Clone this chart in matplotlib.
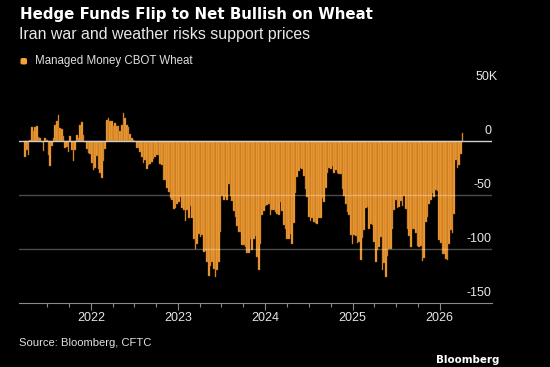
import datetime as dt

import matplotlib
matplotlib.use("Agg")
import matplotlib.dates as mdates
import matplotlib.pyplot as plt
import pandas as pd
from matplotlib.patches import FancyBboxPatch

# weekly CFTC reports (Tuesdays), managed money net position in CBOT wheat, thousands of contracts
first_week = "2021-03-30"
net_position = [
    -15, -8, -13, 1, 13, 10, 13, 14, 4, 3,
    -1, -9, 3, 1, -13, -23, -4, 3, 15, 19,
    24, 12, 11, 5, -6, -5, -10, 5, -8, -18,
    -8, 6, 3, 15, 18, 6, -1, -7, -11, -12,
    -20, -27, -25, -14, -26, -29, -34, -18, -7, 20,
    22, 19, 19, 14, 17, 14, 14, 10, 15, 26,
    22, 15, 13, 7, 3, 1, -1, -6, -6, -10,
    -15, -20, -17, -26, -22, -21, -19, -16, -15, -13,
    -13, -21, -22, -36, -36, -43, -47, -53, -54, -63,
    -62, -58, -56, -52, -62, -64, -74, -64, -71, -60,
    -71, -91, -100, -95, -86, -89, -87, -103, -102, -112,
    -125, -116, -112, -118, -126, -119, -112, -84, -51, -54,
    -52, -54, -40, -51, -55, -65, -70, -79, -84, -84,
    -96, -96, -98, -104, -104, -91, -101, -91, -88, -107,
    -119, -95, -68, -65, -60, -59, -58, -68, -64, -64,
    -66, -67, -68, -56, -65, -78, -81, -91, -91, -86,
    -95, -76, -48, -33, -28, -25, -26, -32, -44, -52,
    -70, -74, -71, -75, -76, -77, -71, -71, -53, -56,
    -43, -29, -25, -26, -23, -29, -27, -29, -30, -30,
    -44, -51, -58, -66, -68, -87, -95, -87, -88, -94,
    -93, -110, -90, -82, -62, -61, -81, -77, -78, -93,
    -112, -101, -98, -89, -119, -113, -126, -106, -100, -100,
    -81, -64, -54, -62, -61, -55, -60, -51, -63, -81,
    -88, -98, -81, -81, -85, -97, -98, -97, -111, -108,
    -75, -70, -58, -54, -48, -52, -45, -46, -92, -94,
    -105, -105, -109, -110, -95, -82, -85, -67, -17, -25,
    -22, -12, 8,
]
y_ticks = [50, 0, -50, -100, -150]
y_tick_labels = ["50K", "0", "-50", "-100", "-150"]
year_labels = ["2022", "2023", "2024", "2025", "2026"]

weeks = pd.date_range(first_week, periods=len(net_position), freq="7D")

BG = "black"
ORANGE = "#F8A236"
W, H = 550, 367
NARROW = ["Liberation Sans", "DejaVu Sans"]

fig = plt.figure(figsize=(5.5, 3.67), dpi=100, facecolor=BG)
ax = fig.add_axes([19.3 / W, (H - 303) / H, (492 - 19.3) / W, (303 - 87.4) / H])
ax.set_facecolor(BG)

# thin darker outline gives the striped look of the original
ax.bar(weeks, net_position, width=7, color=ORANGE, edgecolor="#a8641a",
       linewidth=0.3, zorder=2)

ax.set_xlim(dt.datetime(2021, 3, 6), dt.datetime(2026, 8, 8))
ax.set_ylim(-150, 50)

# gridlines drawn over the bars, labels sit above them at the right edge
for v, lab in zip(y_ticks, y_tick_labels):
    if v == 0:
        ax.axhline(0, color="#d0d0d0", lw=1.0, zorder=3)
    elif v in (-50, -100):
        ax.axhline(v, color="white", alpha=0.3, lw=1.0, zorder=3)
    ax.text(0.999 if lab != "50K" else 1.011, v + 9.6, lab, transform=ax.get_yaxis_transform(),
            ha="right", va="center", color="#e6e6e6", fontsize=9.0, family=NARROW)

ax.set_yticks([])
for s in ("left", "right", "top"):
    ax.spines[s].set_visible(False)
ax.spines["bottom"].set_color("#8a8a8a")
ax.spines["bottom"].set_linewidth(0.8)

ax.set_xticks([mdates.date2num(dt.datetime(int(y), 1, 1)) for y in year_labels])
ax.set_xticklabels(year_labels)
minor = [dt.datetime(y, m, 1) for y in range(2021, 2026) for m in (4, 7, 10)]
minor = [d for d in minor if d >= dt.datetime(2021, 7, 1)]
ax.set_xticks([mdates.date2num(d) for d in minor], minor=True)
ax.tick_params(axis="x", which="major", length=5, width=0.8, color="#8a8a8a",
               labelcolor="#e6e6e6", labelsize=9.0, pad=1.5)
ax.tick_params(axis="x", which="minor", length=3, width=0.8, color="#8a8a8a")
for t in ax.get_xticklabels():
    t.set_family(NARROW)

# header
fig.text(20 / W, 1 - 15 / H, "Hedge Funds Flip to Net Bullish on Wheat", color="white",
         fontsize=10.8, fontweight="bold", ha="left", va="center", family="DejaVu Sans")
fig.text(19 / W, 1 - 34 / H, "Iran war and weather risks support prices", color="#e8e8e8",
         fontsize=11.4, ha="left", va="center", family=NARROW)
fig.patches.append(FancyBboxPatch((20.5 / W, 1 - 64.5 / H), 6.5 / W, 6.5 / H,
                                  boxstyle="round,pad=0,rounding_size=0.004",
                                  transform=fig.transFigure, facecolor=ORANGE, edgecolor="none"))
fig.text(35 / W, 1 - 61.4 / H, "Managed Money CBOT Wheat", color="#e0e0e0",
         fontsize=8.3, ha="left", va="center", family=NARROW)

# footer
fig.text(19 / W, 1 - 342.5 / H, "Source: Bloomberg, CFTC", color="#e0e0e0",
         fontsize=8.1, ha="left", va="center", family=NARROW)
fig.text(499 / W, 1 - 359.6 / H, "Bloomberg", color="white", fontsize=7.4,
         fontweight="bold", ha="right", va="center", family="DejaVu Sans")

fig.savefig("out.png", dpi=100, facecolor=BG)
